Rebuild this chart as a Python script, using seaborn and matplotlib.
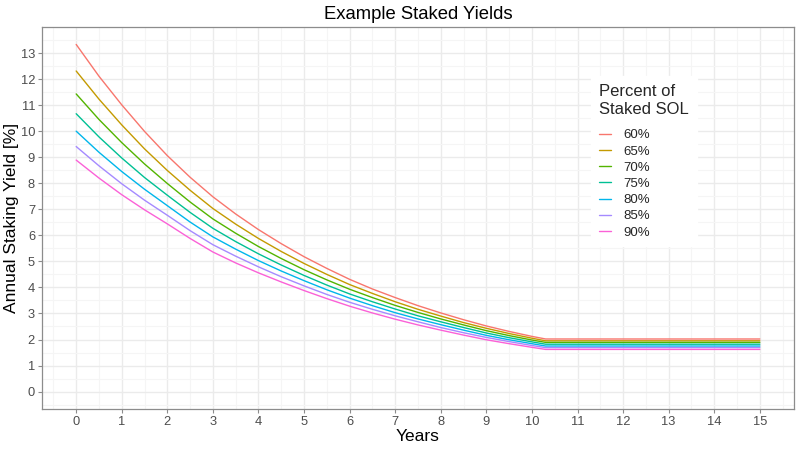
import matplotlib
matplotlib.use("Agg")
import matplotlib.pyplot as plt
from matplotlib.ticker import MultipleLocator
import pandas as pd
import seaborn as sns

# years (half-year steps), plus the point where the terminal rate is reached
years = [0, 0.5, 1, 1.5, 2, 2.5, 3, 3.5, 4, 4.5, 5, 5.5, 6, 6.5, 7, 7.5, 8, 8.5, 9, 9.5, 10, 10.3, 15]

staked = ["60%", "65%", "70%", "75%", "80%", "85%", "90%"]

yield_60 = [13.33, 12.11, 11.01, 9.99, 9.06, 8.23, 7.48, 6.82, 6.22, 5.68, 5.18, 4.73,
            4.31, 3.94, 3.61, 3.30, 3.02, 2.76, 2.52, 2.31, 2.12, 2.02, 2.02]
yield_65 = [12.31, 11.23, 10.24, 9.32, 8.49, 7.73, 7.03, 6.43, 5.88, 5.38, 4.92, 4.50,
            4.11, 3.77, 3.45, 3.16, 2.90, 2.65, 2.43, 2.23, 2.05, 1.95, 1.95]
yield_70 = [11.43, 10.45, 9.56, 8.74, 7.99, 7.28, 6.63, 6.08, 5.57, 5.11, 4.68, 4.29,
            3.93, 3.61, 3.31, 3.04, 2.79, 2.56, 2.34, 2.15, 1.98, 1.89, 1.89]
yield_75 = [10.67, 9.78, 8.97, 8.22, 7.54, 6.88, 6.27, 5.76, 5.29, 4.86, 4.46, 4.09,
            3.75, 3.45, 3.17, 2.91, 2.68, 2.46, 2.25, 2.07, 1.91, 1.82, 1.82]
yield_80 = [10.00, 9.19, 8.45, 7.77, 7.14, 6.51, 5.94, 5.47, 5.03, 4.63, 4.26, 3.91,
            3.59, 3.30, 3.03, 2.79, 2.57, 2.36, 2.16, 1.99, 1.84, 1.75, 1.75]
yield_85 = [9.41, 8.67, 7.98, 7.35, 6.77, 6.18, 5.64, 5.20, 4.79, 4.41, 4.06, 3.73,
            3.43, 3.16, 2.91, 2.68, 2.46, 2.26, 2.08, 1.92, 1.77, 1.69, 1.69]
yield_90 = [8.89, 8.20, 7.56, 6.98, 6.44, 5.88, 5.36, 4.94, 4.56, 4.21, 3.88, 3.57,
            3.28, 3.02, 2.78, 2.56, 2.36, 2.17, 1.99, 1.84, 1.70, 1.62, 1.62]

colors = ["#F8766D", "#C49A00", "#53B400", "#00C094", "#00B6EB", "#A58AFF", "#FB61D7"]

series = [yield_60, yield_65, yield_70, yield_75, yield_80, yield_85, yield_90]
rows = []
for label, vals in zip(staked, series):
    for t, v in zip(years, vals):
        rows.append({"Years": t, "Yield": v, "Percent": label})
df = pd.DataFrame(rows)

sns.set_theme(style="whitegrid")
plt.rcParams["font.family"] = ["Liberation Sans", "DejaVu Sans"]

fig = plt.figure(figsize=(8, 4.5), dpi=100)
ax = fig.add_axes([0.0525, 0.091, 0.94, 0.849])

sns.lineplot(data=df, x="Years", y="Yield", hue="Percent", palette=colors,
             linewidth=1.0, ax=ax)

ax.set_xlim(-0.75, 15.75)
ax.set_ylim(-0.67, 14.0)
ax.set_xticks(range(0, 16))
ax.set_yticks(range(0, 14))
ax.xaxis.set_minor_locator(MultipleLocator(0.5))
ax.yaxis.set_minor_locator(MultipleLocator(0.5))
ax.grid(which="major", color="#EBEBEB", linewidth=1.0)
ax.grid(which="minor", color="#F5F5F5", linewidth=0.8)
ax.set_axisbelow(True)
ax.set_facecolor("white")
for sp in ax.spines.values():
    sp.set_color("#8C8C8C")
    sp.set_linewidth(0.9)
ax.tick_params(which="major", length=3, width=0.8, color="#8C8C8C",
               labelsize=9.3, labelcolor="#4D4D4D", pad=2, left=True, bottom=True)
ax.tick_params(which="minor", length=0)

ax.set_xlabel("Years", fontsize=12.5, color="black", labelpad=1)
ax.set_ylabel("Annual Staking Yield [%]", fontsize=12.5, color="black", labelpad=1)
ax.set_title("Example Staked Yields", fontsize=13.3, color="black", pad=5.5)

leg = ax.legend(title="Percent of\nStaked SOL", loc="upper left",
                bbox_to_anchor=(0.731, 0.845), bbox_transform=fig.transFigure,
                frameon=True, fontsize=9.5, title_fontsize=12,
                handlelength=0.9, handletextpad=0.9, labelspacing=0.3,
                borderpad=0.6)
leg.get_frame().set_facecolor("white")
leg.get_frame().set_edgecolor("white")
leg.get_frame().set_alpha(1.0)
leg._legend_box.align = "left"
leg._legend_box.sep = 9

fig.savefig("out.png", dpi=100)
